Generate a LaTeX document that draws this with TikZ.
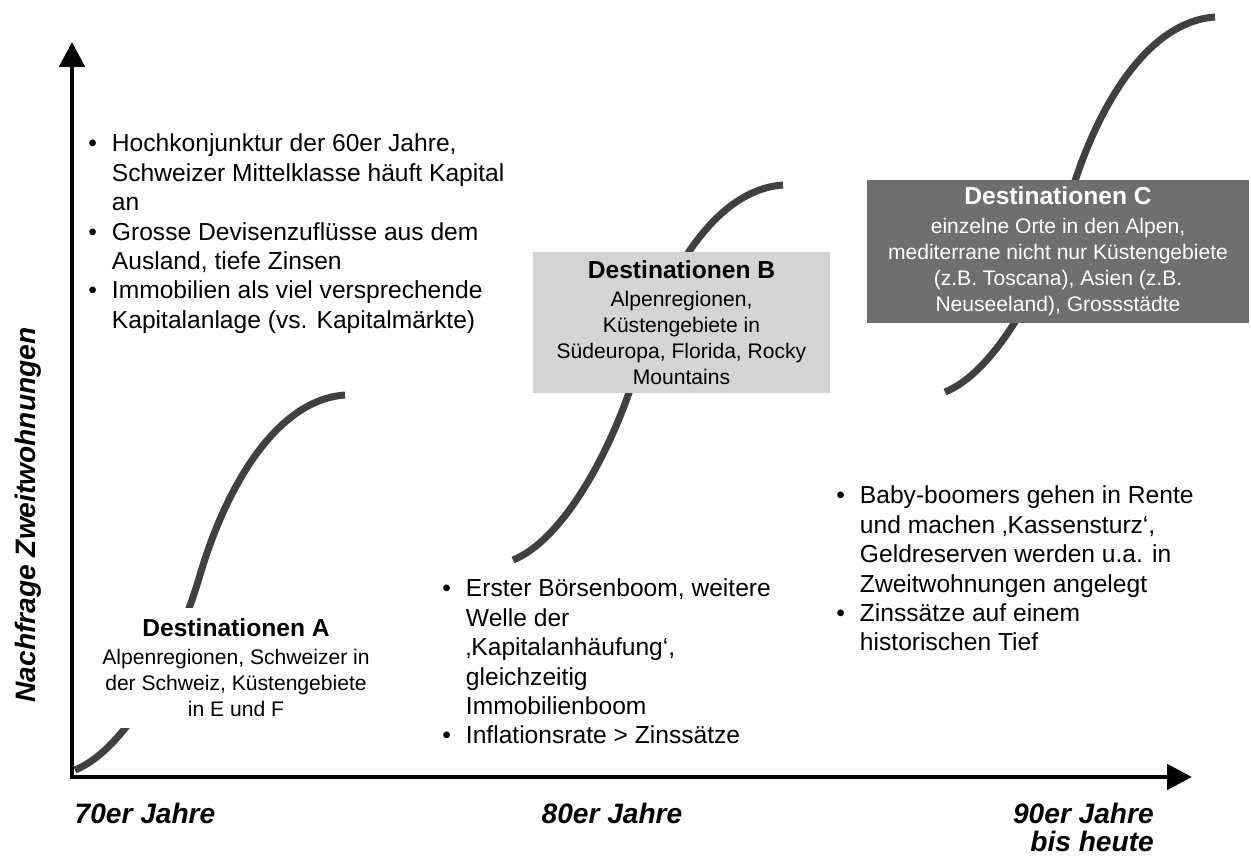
\documentclass[tikz,border=0pt]{standalone}
\usepackage{fontspec}
\setmainfont{Liberation Sans}
\usetikzlibrary{arrows.meta}

\definecolor{boxdark}{RGB}{111,111,111}
\definecolor{boxlight}{RGB}{212,212,212}
\definecolor{curvegray}{RGB}{64,64,64}

\begin{document}
\begin{tikzpicture}[
    curve/.style={curvegray, line width=4pt},
    axis/.style={line width=2.8pt, {Triangle[length=5mm,width=5mm]}-{Triangle[length=5mm,width=5mm]}},
    destbox/.style={inner sep=0pt, align=center, font=\fontsize{12}{14.8}\selectfont},
    bullets/.style={inner sep=0pt, anchor=base west, font=\fontsize{14}{16.7}\selectfont},
    yearlabel/.style={font=\fontsize{16}{16}\selectfont\bfseries\itshape}
  ]
  \useasboundingbox (0,0) rectangle (25.02,17.12);

  % Axes
  \coordinate (origin) at (1.44,1.58);
  \coordinate (ytip) at (1.44,16.28);
  \coordinate (xtip) at (23.84,1.58);
  \draw[axis] (ytip) -- (origin) -- (xtip);

  % S-curves (same shape, shifted)
  \foreach \sx/\sy in {1.5/1.72, 10.26/5.92, 18.9/9.28}
    \draw[curve, shift={(\sx,\sy)}] (0,0) .. controls (1.0,0.4) and (2.0,2.2) .. (2.5,3.9)
      .. controls (3.0,5.6) and (4.0,7.4) .. (5.4,7.5);

  % Destinations
  \node[destbox, fill=white, minimum height=2.4cm] (destA) at (4.72,3.76)
    {{\fontsize{14}{14.8}\selectfont\bfseries Destinationen A}\\[1pt]
     Alpenregionen, Schweizer in\\ der Schweiz, Küstengebiete\\ in E und F};
  \node[destbox, fill=boxlight, minimum width=5.94cm, minimum height=2.82cm] (destB) at (13.63,10.67)
    {{\fontsize{14}{14.8}\selectfont\bfseries Destinationen B}\\[1pt]
     Alpenregionen,\\ Küstengebiete in\\ Südeuropa, Florida, Rocky\\ Mountains};
  \node[destbox, fill=boxdark, text=white, minimum width=7.64cm, minimum height=2.86cm] (destC) at (21.16,12.09)
    {{\fontsize{14}{14.8}\selectfont\bfseries Destinationen C}\\[2pt]
     einzelne Orte in den Alpen,\\ mediterrane nicht nur Küstengebiete\\ (z.B. Toscana), Asien (z.B.\\ Neuseeland), Grossstädte};

  % Driving factors
  \node[bullets] (factorsA) at (1.76,14.08) {\begin{tabular}[t]{@{}l@{\hspace{0.3cm}}l@{}}
    \textbullet & Hochkonjunktur der 60er Jahre,\\
                & Schweizer Mittelklasse häuft Kapital\\
                & an\\
    \textbullet & Grosse Devisenzuflüsse aus dem\\
                & Ausland, tiefe Zinsen\\
    \textbullet & Immobilien als viel versprechende\\
                & Kapitalanlage (vs. Kapitalmärkte)
  \end{tabular}};
  \node[bullets] (factorsB) at (8.84,5.18) {\begin{tabular}[t]{@{}l@{\hspace{0.3cm}}l@{}}
    \textbullet & Erster Börsenboom, weitere\\
                & Welle der\\
                & ‚Kapitalanhäufung‘,\\
                & gleichzeitig\\
                & Immobilienboom\\
    \textbullet & Inflationsrate > Zinssätze
  \end{tabular}};
  \node[bullets] (factorsC) at (16.72,7.04) {\begin{tabular}[t]{@{}l@{\hspace{0.3cm}}l@{}}
    \textbullet & Baby-boomers gehen in Rente\\
                & und machen ‚Kassensturz‘,\\
                & Geldreserven werden u.a. in\\
                & Zweitwohnungen angelegt\\
    \textbullet & Zinssätze auf einem\\
                & historischen Tief
  \end{tabular}};

  % Axis labels
  \node[yearlabel, rotate=90] (demand) at (0.56,6.82) {Nachfrage Zweitwohnungen};
  \node[yearlabel] (seventies) at (2.9,0.86) {70er Jahre};
  \node[yearlabel] (eighties) at (12.24,0.86) {80er Jahre};
  \node[yearlabel, align=right, anchor=east] (nineties) at (23.2,0.57) {90er Jahre\\ bis heute};
\end{tikzpicture}
\end{document}
